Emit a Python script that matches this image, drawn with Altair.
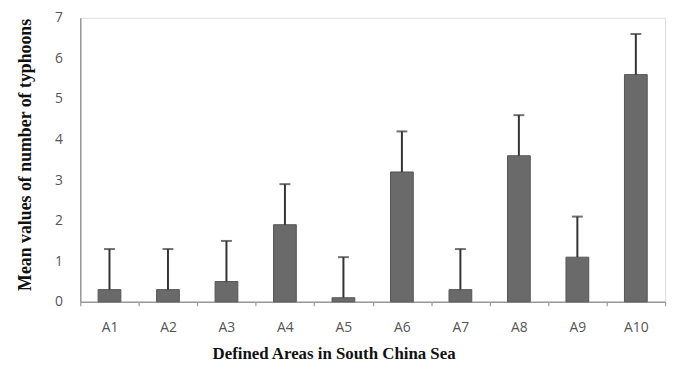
import altair as alt
import pandas as pd

areas = ["A1", "A2", "A3", "A4", "A5", "A6", "A7", "A8", "A9", "A10"]
means = [0.3, 0.3, 0.5, 1.9, 0.1, 3.2, 0.3, 3.6, 1.1, 5.6]
errors = [1.0, 1.0, 1.0, 1.0, 1.0, 1.0, 1.0, 1.0, 1.0, 1.0]
y_ticks = [0, 1, 2, 3, 4, 5, 6, 7]

df = pd.DataFrame({"area": areas, "mean": means, "err": errors})
df["upper"] = df["mean"] + df["err"]

xscale = alt.Scale(domain=areas, paddingInner=0, paddingOuter=0)
yscale = alt.Scale(domain=[0, 7], nice=False)

label_font = "Open Sans"
title_font = "Liberation Serif"

x_axis = alt.Axis(
    title="Defined Areas in South China Sea", labelAngle=0,
    labelFont=label_font, labelFontSize=14, labelColor="#555555",
    labelPadding=15, ticks=True, tickSize=4, tickBand="extent",
    tickColor="#9a9a9a", tickWidth=1.2, domainColor="#9a9a9a", domainWidth=1.5,
    titleFont=title_font, titleFontSize=17, titleFontWeight="bold",
    titleColor="#111111", titleX=256, titleY=57, titleBaseline="alphabetic",
)

y_axis = alt.Axis(
    title="Mean values of number of typhoons", values=y_ticks, grid=False,
    ticks=False, labelFont=label_font, labelFontSize=14, labelColor="#555555",
    labelPadding=18, domainColor="#9a9a9a", domainWidth=1.5,
    titleFont=title_font, titleFontSize=18, titleFontWeight="bold",
    titleColor="#111111", titleX=-55, titleY=138, titleBaseline="middle",
)

x_enc = alt.X("area:N", sort=areas, scale=xscale, axis=x_axis)

bars = alt.Chart(df).mark_bar(
    size=23, color="#6a6a6a", stroke="#555555", strokeWidth=1
).encode(x=x_enc, y=alt.Y("mean:Q", scale=yscale, axis=y_axis))

rules = alt.Chart(df).mark_rule(color="#333333", strokeWidth=2).encode(
    x=x_enc,
    y=alt.Y("mean:Q", scale=yscale, axis=y_axis),
    y2="upper:Q",
)

caps = alt.Chart(df).mark_tick(
    orient="horizontal", size=11, thickness=2, color="#333333"
).encode(
    x=x_enc,
    y=alt.Y("upper:Q", scale=yscale, axis=y_axis),
)

chart = (
    alt.layer(bars, rules, caps)
    .properties(
        width=591, height=287,
        autosize=alt.AutoSizeParams(type="none"),
        padding={"left": 73, "top": 8, "right": 8, "bottom": 65},
    )
    .configure_view(stroke="#333333", strokeWidth=1.5)
    .configure(background="white")
)

chart.save("out.html", embed_options={"renderer": "svg", "actions": False})
